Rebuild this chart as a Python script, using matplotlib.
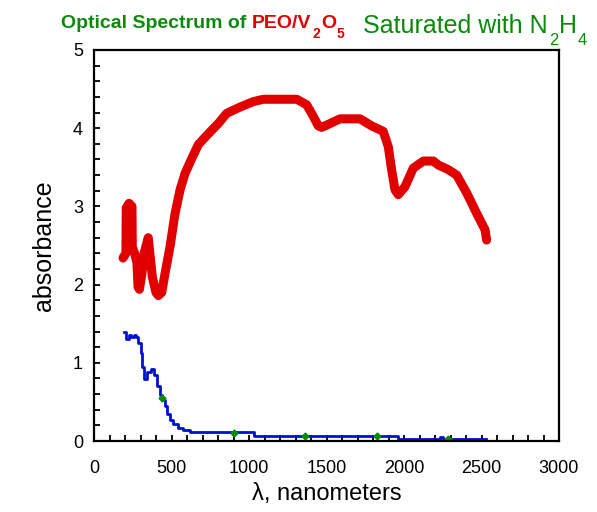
import matplotlib
matplotlib.use("Agg")
import matplotlib.pyplot as plt
from matplotlib.ticker import MultipleLocator

plt.rcParams['font.family'] = ['Liberation Sans', 'DejaVu Sans']

# Red spectrum (PEO/V2O5)
red_x = [187, 206, 208, 226, 245, 247, 262, 277, 284, 293, 310, 323, 350, 376, 400, 415,
         437, 458, 490, 523, 555, 587, 630, 673, 738, 802, 856, 942, 1028, 1092, 1200,
         1308, 1372, 1415, 1447, 1469, 1523, 1587, 1716, 1791, 1866, 1899, 1920, 1942,
         1963, 2006, 2060, 2125, 2189, 2221, 2286, 2340, 2405, 2469, 2523, 2533]
red_y = [2.34, 2.40, 2.98, 3.04, 3.00, 2.48, 2.40, 2.28, 1.97, 1.94, 2.15, 2.40, 2.60, 2.10,
         1.90, 1.86, 1.90, 2.14, 2.48, 2.91, 3.21, 3.42, 3.61, 3.79, 3.93, 4.06, 4.19, 4.27,
         4.34, 4.37, 4.37, 4.37, 4.30, 4.15, 4.03, 4.01, 4.06, 4.12, 4.12, 4.03, 3.96, 3.76,
         3.47, 3.21, 3.15, 3.25, 3.49, 3.58, 3.58, 3.53, 3.47, 3.40, 3.17, 2.91, 2.70, 2.57]

# Blue spectrum (saturated with N2H4)
blue_x = [195, 205, 225, 240, 255, 270, 285, 300, 310, 320, 345, 365, 385, 405, 425, 440,
          455, 470, 490, 510, 540, 575, 620, 1030, 1960, 2230, 2250, 2530]
blue_y = [1.40, 1.30, 1.36, 1.33, 1.36, 1.33, 1.25, 1.12, 0.95, 0.79, 0.88, 0.92, 0.84, 0.70,
          0.59, 0.52, 0.45, 0.35, 0.27, 0.22, 0.17, 0.14, 0.11, 0.07, 0.03, 0.05, 0.03, 0.03]

# Green markers on the blue curve
mark_x = [440, 900, 1360, 1825, 2285]
mark_y = [0.55, 0.10, 0.07, 0.07, 0.03]

x_ticks = [0, 500, 1000, 1500, 2000, 2500, 3000]
y_ticks = [0, 1, 2, 3, 4, 5]

RED = '#e00000'
GREEN = '#0a8a0a'
BLUE = '#0010d0'

fig = plt.figure(figsize=(5.97, 5.12), dpi=100)
ax = fig.add_axes([94/597, (512-441)/512, (559-94)/597, (441-50)/512])

ax.plot(red_x, red_y, color=RED, lw=6.5, solid_capstyle='round', solid_joinstyle='round')
ax.plot(blue_x, blue_y, color=BLUE, lw=2, drawstyle='steps-post')
ax.plot(mark_x, mark_y, linestyle='none', marker='D', markersize=3.5, color=GREEN)

ax.set_xlim(0, 3000)
ax.set_ylim(0, 5)
ax.set_xticks(x_ticks)
ax.set_yticks(y_ticks)
ax.xaxis.set_minor_locator(MultipleLocator(100))
ax.yaxis.set_minor_locator(MultipleLocator(0.2))
ax.tick_params(which='both', direction='in', top=False, right=False, labelsize=13,
               width=1.3, length=4)
ax.tick_params(axis='x', pad=14)
ax.tick_params(axis='y', pad=8)
for s in ax.spines.values():
    s.set_linewidth(1.6)

ax.set_xlabel('λ, nanometers', fontsize=17, labelpad=4)
ax.set_ylabel('absorbance', fontsize=18, labelpad=12)

# Title made of several coloured pieces
fig.canvas.draw()
renderer = fig.canvas.get_renderer()

def piece(x_px, base_px, s, color, size, weight='normal'):
    t = fig.text(x_px/597, 1 - base_px/512, s, color=color, fontsize=size,
                 fontweight=weight, ha='left', va='baseline')
    bb = t.get_window_extent(renderer=renderer)
    return bb.x1

x = piece(61, 28, 'Optical Spectrum of ', GREEN, 14, 'bold')
x = piece(x, 28, 'PEO/V', RED, 14, 'bold')
x = piece(x + 1, 38, '2', RED, 10, 'bold')
x = piece(x + 1, 28, 'O', RED, 14, 'bold')
x = piece(x + 1, 38, '5', RED, 10, 'bold')
x = piece(363, 33, 'Saturated with N', GREEN, 18)
x = piece(x + 1, 45, '2', GREEN, 12)
x = piece(x + 1, 33, 'H', GREEN, 18)
x = piece(x + 1, 45, '4', GREEN, 12)

fig.savefig('out.png', dpi=100)
